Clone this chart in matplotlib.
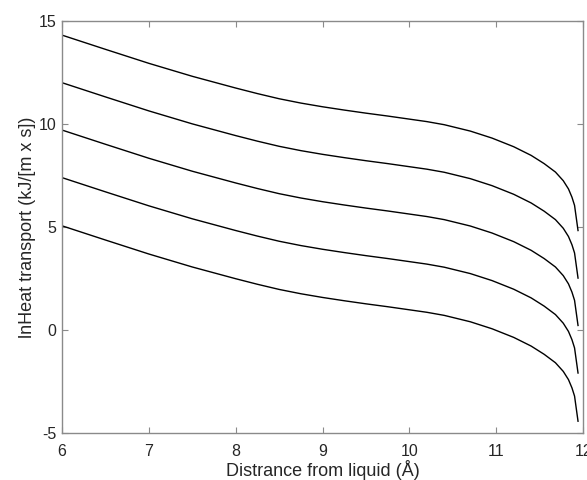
import matplotlib.pyplot as plt

# distance from liquid (Angstrom)
x = [6.0, 6.5, 7.0, 7.5, 8.0, 8.25, 8.5, 8.75, 9.0, 9.25, 9.5, 9.75, 10.0, 10.2,
     10.4, 10.7, 10.95, 11.2, 11.4, 11.55, 11.68, 11.77, 11.83, 11.87, 11.9, 11.94]

# ln heat transport for each curve, top to bottom
curve1 = [14.32, 13.63, 12.95, 12.32, 11.75, 11.48, 11.23, 11.02, 10.84, 10.68, 10.53,
          10.39, 10.24, 10.12, 9.97, 9.66, 9.32, 8.90, 8.48, 8.08, 7.67, 7.25, 6.85,
          6.45, 6.05, 4.83]
curve2 = [12.01, 11.32, 10.64, 10.01, 9.44, 9.17, 8.92, 8.71, 8.53, 8.37, 8.22,
          8.08, 7.93, 7.81, 7.66, 7.35, 7.01, 6.59, 6.17, 5.77, 5.36, 4.94, 4.54,
          4.14, 3.74, 2.52]
curve3 = [9.71, 9.02, 8.34, 7.71, 7.14, 6.87, 6.62, 6.41, 6.23, 6.07, 5.92,
          5.78, 5.63, 5.51, 5.36, 5.05, 4.71, 4.29, 3.87, 3.47, 3.06, 2.64, 2.24,
          1.84, 1.44, 0.22]
curve4 = [7.40, 6.71, 6.03, 5.40, 4.83, 4.56, 4.31, 4.10, 3.92, 3.76, 3.61,
          3.47, 3.32, 3.20, 3.05, 2.74, 2.40, 1.98, 1.56, 1.16, 0.75, 0.33, -0.07,
          -0.47, -0.87, -2.09]
curve5 = [5.06, 4.37, 3.69, 3.06, 2.49, 2.22, 1.97, 1.76, 1.58, 1.42, 1.27,
          1.13, 0.98, 0.86, 0.71, 0.40, 0.06, -0.36, -0.78, -1.18, -1.59, -2.01, -2.41,
          -2.81, -3.21, -4.43]

xticks = [6, 7, 8, 9, 10, 11, 12]
yticks = [-5, 0, 5, 10, 15]

plt.rcParams['font.family'] = ['Liberation Sans', 'DejaVu Sans']
plt.rcParams['axes.unicode_minus'] = False

fig = plt.figure(figsize=(5.87, 4.80), dpi=100)
ax = fig.add_axes([0.1056, 0.098, 0.888, 0.858])

for c in [curve1, curve2, curve3, curve4, curve5]:
    ax.plot(x, c, color='black', linewidth=1.0)

ax.set_xlim(6, 12)
ax.set_ylim(-5, 15)
ax.set_xticks(xticks)
ax.set_yticks(yticks)

# matlab-like box with inward ticks on every side
for s in ax.spines.values():
    s.set_color('#8a8a8a')
    s.set_linewidth(1.0)
ax.tick_params(direction='in', top=True, right=True, length=4, width=0.8,
               color='#8a8a8a', labelcolor='#262626', labelsize=11.5)
ax.tick_params(axis='x', pad=8)
ax.tick_params(axis='y', pad=4)

ax.set_xlabel('Distrance from liquid (Å)', fontsize=13, color='#262626', labelpad=1)
ax.set_ylabel('lnHeat transport (kJ/[m x s])', fontsize=13, color='#262626', labelpad=2)

fig.savefig('out.png', dpi=100)
